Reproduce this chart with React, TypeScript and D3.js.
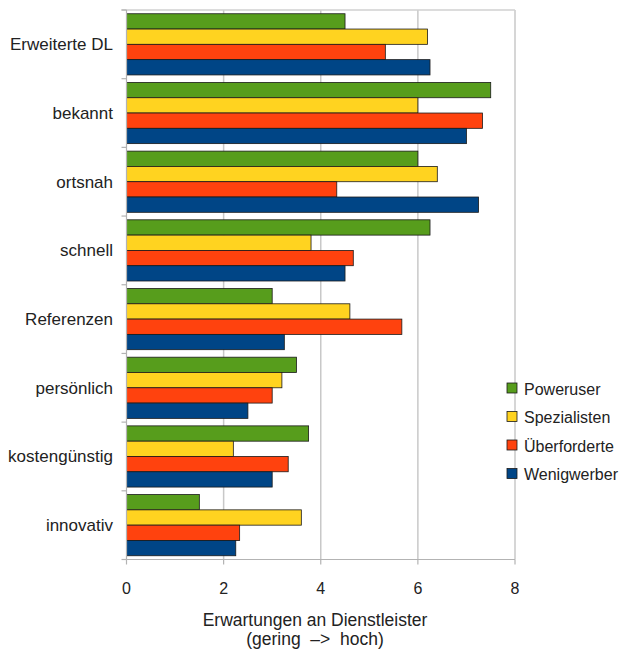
import React from "react";
import * as d3 from "d3";

const categories = ["Erweiterte DL", "bekannt", "ortsnah", "schnell", "Referenzen", "persönlich", "kostengünstig", "innovativ"];
const seriesNames = ["Poweruser", "Spezialisten", "Überforderte", "Wenigwerber"];
const seriesColors = ["#579d1c", "#ffd320", "#ff420e", "#004586"];
const poweruser = [4.5, 7.5, 6.0, 6.25, 3.0, 3.5, 3.75, 1.5];
const spezialisten = [6.2, 6.0, 6.4, 3.8, 4.6, 3.2, 2.2, 3.6];
const ueberforderte = [5.33, 7.33, 4.33, 4.67, 5.67, 3.0, 3.33, 2.33];
const wenigwerber = [6.25, 7.0, 7.25, 4.5, 3.25, 2.5, 3.0, 2.25];
const xTicks = [0, 2, 4, 6, 8];

const seriesValues = [poweruser, spezialisten, ueberforderte, wenigwerber];

export default function App() {
  const W = 628, H = 653;
  const left = 126.5, right = 515, top = 10, bottom = 559.5;
  const x = d3.scaleLinear().domain([0, 8]).range([left, right]);
  const y = d3.scaleBand<string>().domain(categories).range([top, bottom]).paddingInner(0).paddingOuter(0);
  const inner = d3.scaleBand<number>().domain([0, 1, 2, 3]).range([0, y.bandwidth()]).paddingOuter(0.245).paddingInner(0);
  const font = "'Liberation Sans', Arial, sans-serif";
  const boundaries = d3.range(categories.length + 1).map(i => top + i * y.bandwidth());

  return (
    <svg width={W} height={H} style={{ position: "absolute", left: 0, top: 0, background: "#fff" }}>
      {/* grid */}
      {xTicks.filter(t => t > 0).map(t => (
        <line key={"g" + t} x1={x(t)} x2={x(t)} y1={top} y2={bottom} stroke="#c8c8c8" strokeWidth={1.5} />
      ))}
      <line x1={left - 5} x2={right} y1={top} y2={top} stroke="#d0d0d0" strokeWidth={1.5} />
      {/* bars */}
      {categories.map((c, ci) => (
        <g key={c}>
          {seriesValues.map((vals, si) => (
            <rect key={si}
              x={x(0)} y={(y(c) as number) + (inner(si) as number)}
              width={x(vals[ci]) - x(0)} height={inner.bandwidth()}
              fill={seriesColors[si]} stroke="#1a1a1a" strokeWidth={0.8} />
          ))}
        </g>
      ))}
      {/* axes */}
      <line x1={left} x2={left} y1={top} y2={bottom} stroke="#b3b3b3" strokeWidth={1.2} />
      <line x1={left} x2={right} y1={bottom} y2={bottom} stroke="#b3b3b3" strokeWidth={1.2} />
      {boundaries.map((b, i) => (
        <line key={"yt" + i} x1={left - 5} x2={left} y1={b} y2={b} stroke="#b3b3b3" strokeWidth={1.2} />
      ))}
      {xTicks.map(t => (
        <line key={"xt" + t} x1={x(t)} x2={x(t)} y1={bottom} y2={bottom + 5} stroke="#b3b3b3" strokeWidth={1.2} />
      ))}
      {xTicks.map(t => (
        <text key={"xl" + t} x={x(t)} y={593.5} textAnchor="middle" fontFamily={font} fontSize={16} fill="#222">{t}</text>
      ))}
      {categories.map(c => (
        <text key={"cl" + c} x={113} y={(y(c) as number) + y.bandwidth() / 2 + 6} textAnchor="end" fontFamily={font} fontSize={17} fill="#222">{c}</text>
      ))}
      <text x={315} y={626} textAnchor="middle" fontFamily={font} fontSize={17.5} fill="#222">Erwartungen an Dienstleister</text>
      <text x={315} y={645} textAnchor="middle" fontFamily={font} fontSize={17.5} fill="#222" style={{ whiteSpace: "pre" }}>(gering  –&gt;  hoch)</text>
      {/* legend */}
      {seriesNames.map((n, i) => (
        <g key={n} transform={`translate(507, ${383 + i * 28.5})`}>
          <rect x={0} y={0} width={10} height={10} fill={seriesColors[i]} stroke="#1a1a1a" strokeWidth={0.8} />
          <text x={17} y={11.5} fontFamily={font} fontSize={16} fill="#222" style={{ whiteSpace: "pre" }}>{n}</text>
        </g>
      ))}
    </svg>
  );
}
